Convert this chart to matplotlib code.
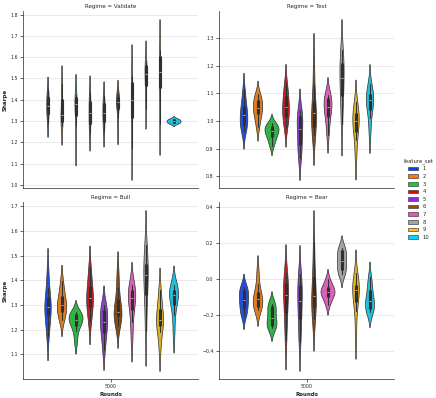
import numpy as np
import pandas as pd
import matplotlib
matplotlib.use("Agg")
import matplotlib.pyplot as plt
from matplotlib.patches import Patch
import seaborn as sns

REGIMES = ["Validate", "Test", "Bull", "Bear"]
FEATURE_SETS = ["1", "2", "3", "4", "5", "6", "7", "8", "9", "10"]
ROUNDS = 5000

# Sharpe samples per feature set
validate_sharpe = [
    [1.291, 1.32, 1.34, 1.36, 1.37, 1.385, 1.41, 1.43, 1.444],
    [1.278, 1.29, 1.30, 1.315, 1.33, 1.36, 1.40, 1.44, 1.473],
    [1.19, 1.28, 1.33, 1.365, 1.38, 1.39, 1.41, 1.418, 1.423],
    [1.244, 1.27, 1.29, 1.32, 1.34, 1.36, 1.39, 1.41, 1.432],
    [1.251, 1.28, 1.30, 1.325, 1.34, 1.355, 1.38, 1.40, 1.416],
    [1.26, 1.32, 1.36, 1.38, 1.39, 1.40, 1.41, 1.418, 1.425],
    [1.172, 1.26, 1.32, 1.37, 1.40, 1.43, 1.48, 1.50, 1.513],
    [1.359, 1.43, 1.47, 1.50, 1.52, 1.535, 1.56, 1.575, 1.584],
    [1.288, 1.39, 1.46, 1.51, 1.53, 1.56, 1.60, 1.62, 1.632],
    [1.289, 1.2945, 1.300, 1.3055, 1.311],
]
test_sharpe = [
    [0.962, 0.98, 0.99, 1.005, 1.02, 1.035, 1.05, 1.075, 1.112],
    [0.978, 1.005, 1.027, 1.037, 1.045, 1.058, 1.073, 1.085, 1.096],
    [0.911, 0.93, 0.946, 0.955, 0.962, 0.97, 0.979, 0.985, 0.991],
    [0.975, 1.0, 1.019, 1.035, 1.05, 1.065, 1.085, 1.11, 1.138],
    [0.866, 0.89, 0.916, 0.945, 0.97, 0.99, 1.013, 1.025, 1.038],
    [0.949, 0.965, 0.982, 1.01, 1.03, 1.05, 1.067, 1.13, 1.21],
    [0.948, 0.99, 1.019, 1.035, 1.05, 1.062, 1.08, 1.088, 1.095],
    [0.988, 1.05, 1.092, 1.13, 1.155, 1.18, 1.207, 1.23, 1.255],
    [0.868, 0.93, 0.964, 0.985, 1.0, 1.01, 1.025, 1.045, 1.07],
    [0.955, 1.01, 1.043, 1.06, 1.075, 1.085, 1.092, 1.11, 1.135],
]
bull_sharpe = [
    [1.175, 1.22, 1.261, 1.28, 1.29, 1.305, 1.328, 1.37, 1.432],
    [1.239, 1.258, 1.275, 1.29, 1.30, 1.315, 1.333, 1.36, 1.398],
    [1.152, 1.195, 1.219, 1.232, 1.24, 1.248, 1.258, 1.265, 1.271],
    [1.23, 1.27, 1.296, 1.315, 1.33, 1.35, 1.372, 1.41, 1.452],
    [1.116, 1.16, 1.191, 1.215, 1.23, 1.245, 1.275, 1.29, 1.30],
    [1.214, 1.24, 1.258, 1.265, 1.27, 1.29, 1.319, 1.37, 1.43],
    [1.163, 1.23, 1.282, 1.31, 1.33, 1.34, 1.356, 1.37, 1.382],
    [1.195, 1.28, 1.344, 1.39, 1.42, 1.44, 1.463, 1.50, 1.543],
    [1.123, 1.19, 1.22, 1.23, 1.24, 1.255, 1.28, 1.32, 1.361],
    [1.187, 1.26, 1.302, 1.325, 1.34, 1.35, 1.358, 1.37, 1.38],
]
bear_sharpe = [
    [-0.204, -0.18, -0.161, -0.13, -0.115, -0.095, -0.069, -0.055, -0.044],
    [-0.171, -0.16, -0.148, -0.125, -0.11, -0.095, -0.078, -0.03, 0.043],
    [-0.274, -0.265, -0.254, -0.235, -0.215, -0.19, -0.156, -0.145, -0.137],
    [-0.342, -0.25, -0.185, -0.13, -0.09, -0.06, -0.031, 0.0, 0.034],
    [-0.347, -0.28, -0.217, -0.16, -0.12, -0.08, -0.041, -0.01, 0.025],
    [-0.22, -0.19, -0.152, -0.12, -0.095, -0.06, 0.006, 0.09, 0.203],
    [-0.143, -0.11, -0.093, -0.08, -0.07, -0.06, -0.05, -0.03, 0.0],
    [0.025, 0.04, 0.052, 0.08, 0.10, 0.12, 0.154, 0.162, 0.17],
    [-0.31, -0.18, -0.124, -0.08, -0.06, -0.05, -0.041, -0.01, 0.031],
    [-0.181, -0.17, -0.161, -0.14, -0.12, -0.1, -0.069, -0.03, 0.011],
]

rows = []
for regime, groups in zip(REGIMES, [validate_sharpe, test_sharpe, bull_sharpe, bear_sharpe]):
    for fs, vals in zip(FEATURE_SETS, groups):
        for v in vals:
            rows.append((regime, fs, ROUNDS, v))
df = pd.DataFrame(rows, columns=["Regime", "feature_set", "Rounds", "Sharpe"])

sns.set_theme(style="ticks")
plt.rcParams["font.family"] = ["DejaVu Sans"]
pal = sns.color_palette("bright", len(FEATURE_SETS))

DPI = 40
fig = plt.figure(figsize=(436 / DPI, 398 / DPI), dpi=DPI)
# axes boxes in figure fractions: [left, bottom, width, height]
boxes = [[0.0528, 0.5276, 0.4014, 0.4447], [0.5023, 0.5276, 0.4014, 0.4447],
         [0.0528, 0.0477, 0.4014, 0.4447], [0.5023, 0.0477, 0.4014, 0.4447]]

for i, regime in enumerate(REGIMES):
    ax = fig.add_axes(boxes[i])
    sub = df[df.Regime == regime]
    sns.violinplot(data=sub, x="Rounds", y="Sharpe", hue="feature_set",
                   hue_order=FEATURE_SETS, palette=pal, ax=ax, legend=False,
                   density_norm="area", common_norm=True)
    ax.yaxis.grid(True, color=".9", lw=1.5)
    ax.set_axisbelow(True)
    sns.despine(ax=ax)
    ax.set_title(f"Regime = {regime}", fontsize=10)
    ax.tick_params(axis="both", labelsize=8.5)
    if i % 2 == 0:
        ax.set_ylabel("Sharpe", fontsize=10, fontweight="bold")
    else:
        ax.set_ylabel("")
    if i < 2:
        ax.set_xlabel("")
        ax.tick_params(axis="x", length=0, labelbottom=False)
    else:
        ax.set_xlabel("Rounds", fontsize=10, fontweight="bold")

handles = [Patch(facecolor=c, edgecolor=".25", linewidth=1.2) for c in pal]
fig.legend(handles, FEATURE_SETS, title="feature_set", loc="center left",
           bbox_to_anchor=(0.915, 0.5), frameon=False, fontsize=9.5,
           title_fontsize=9.5)

fig.savefig("out.png", dpi=DPI)
